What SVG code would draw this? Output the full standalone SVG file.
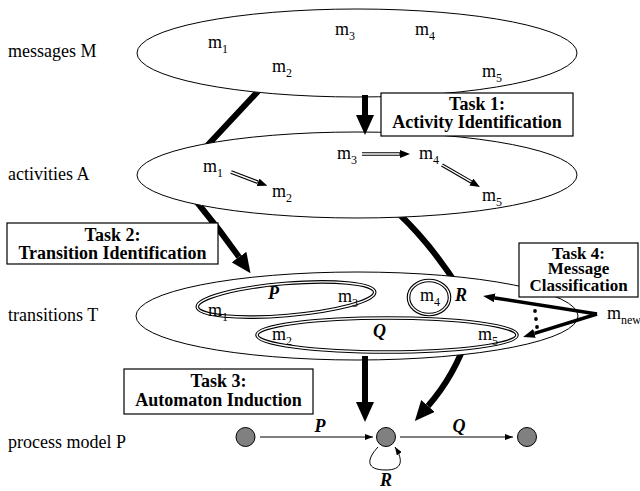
<svg xmlns="http://www.w3.org/2000/svg" width="640" height="491" viewBox="0 0 640 491">
<defs>
<style>
text{font-family:"Liberation Serif","Times New Roman",serif;font-size:18px;fill:#000}
.sub{font-size:12px}
.task{font-weight:bold;text-anchor:middle}
.t4{font-size:17px}
.bi{font-weight:bold;font-style:italic}
.set{fill:#fff;stroke:#000;stroke-width:1}
.dblo{fill:none;stroke:#000;stroke-width:3.6}
.dbli{fill:none;stroke:#fff;stroke-width:1.4}
.box{fill:#fff;stroke:#000;stroke-width:1.2}
.thick{fill:none;stroke:#000;stroke-width:6;stroke-linejoin:round}
.med{fill:none;stroke:#000;stroke-width:3.5}
.thin{fill:none;stroke:#000;stroke-width:1}
.state{fill:#808080;stroke:#000;stroke-width:1}
</style>
<marker id="bigHead" markerUnits="userSpaceOnUse" markerWidth="20" markerHeight="18" refX="0" refY="9" orient="auto"><path d="M0,0 L20,9 L0,18 Z" fill="#000"/></marker>
<marker id="midHead" markerUnits="userSpaceOnUse" markerWidth="12" markerHeight="9" refX="0" refY="4.5" orient="auto"><path d="M0,0 L12,4.5 L0,9 Z" fill="#000"/></marker>
<marker id="dblHead" markerUnits="userSpaceOnUse" markerWidth="10" markerHeight="8" refX="0" refY="4" orient="auto"><path d="M0,0 L10,4 L0,8 Z" fill="#000"/></marker>
<marker id="thinHead" markerUnits="userSpaceOnUse" markerWidth="8" markerHeight="6" refX="8" refY="3" orient="auto"><path d="M0,0 L8,3 L0,6 Z" fill="#000"/></marker>
<clipPath id="outside">
<path clip-rule="evenodd" d="M0,0 H640 V491 H0 Z M137,53 A220,44 0 1 0 577,53 A220,44 0 1 0 137,53 Z M137,175 A220,43 0 1 0 577,175 A220,43 0 1 0 137,175 Z M136,316 A221,44 0 1 0 578,316 A221,44 0 1 0 136,316 Z"/>
</clipPath>
</defs>
<rect width="640" height="491" fill="#fff"/>

<text x="8" y="57">messages M</text>
<text x="8" y="180">activities A</text>
<text x="8" y="321">transitions T</text>
<text x="8" y="448">process model P</text>

<g id="set-M">
<ellipse class="set" cx="357" cy="53" rx="220" ry="44"/>
<text x="208" y="48">m<tspan class="sub" dy="5">1</tspan></text>
<text x="272" y="72">m<tspan class="sub" dy="5">2</tspan></text>
<text x="335" y="35">m<tspan class="sub" dy="5">3</tspan></text>
<text x="415" y="35">m<tspan class="sub" dy="5">4</tspan></text>
<text x="482" y="77">m<tspan class="sub" dy="5">5</tspan></text>
</g>

<g id="set-A">
<ellipse class="set" cx="357" cy="175" rx="220" ry="43"/>
<text x="203" y="172">m<tspan class="sub" dy="5">1</tspan></text>
<text x="272" y="197">m<tspan class="sub" dy="5">2</tspan></text>
<text x="337" y="159">m<tspan class="sub" dy="5">3</tspan></text>
<text x="419" y="159">m<tspan class="sub" dy="5">4</tspan></text>
<text x="482" y="201">m<tspan class="sub" dy="5">5</tspan></text>
</g>

<g id="set-T">
<ellipse class="set" cx="357" cy="316" rx="221" ry="44"/>
</g>
<g id="trans-P">
<ellipse class="dblo" cx="286" cy="299.5" rx="89" ry="16" transform="rotate(-4.8 286 299.5)"/>
<ellipse class="dbli" cx="286" cy="299.5" rx="89" ry="16" transform="rotate(-4.8 286 299.5)"/>
<text x="208" y="316">m<tspan class="sub" dy="5">1</tspan></text>
<text class="bi" x="268" y="299">P</text>
<text x="338" y="302">m<tspan class="sub" dy="5">3</tspan></text>
</g>
<g id="trans-Q">
<ellipse class="dblo" cx="387" cy="335" rx="130" ry="17"/>
<ellipse class="dbli" cx="387" cy="335" rx="130" ry="17"/>
<text x="272" y="340">m<tspan class="sub" dy="5">2</tspan></text>
<text class="bi" x="373" y="337">Q</text>
<text x="478" y="340">m<tspan class="sub" dy="5">5</tspan></text>
</g>
<g id="trans-R">
<ellipse class="dblo" cx="429" cy="297.5" rx="20.5" ry="17"/>
<ellipse class="dbli" cx="429" cy="297.5" rx="20.5" ry="17"/>
<text x="420" y="301">m<tspan class="sub" dy="5">4</tspan></text>
<text class="bi" x="455" y="301">R</text>
</g>

<g id="connectors">
<path class="thick" clip-path="url(#outside)" marker-end="url(#bigHead)" d="M262,87 L205,148 C185,170 180,185 200,206 Q220,230 239,257"/>
<path class="thick" clip-path="url(#outside)" marker-end="url(#bigHead)" d="M398,213 Q432,245 460,290 L468,335 Q455,375 428,406"/>
<path class="thick" marker-end="url(#bigHead)" d="M365,95 V115"/>
<path class="thick" marker-end="url(#bigHead)" d="M365,356 V402"/>
<path class="dblo" marker-end="url(#dblHead)" d="M231,172 L258,182.3"/>
<path class="dbli" d="M231,172 L257.5,182.1"/>
<path class="dblo" marker-end="url(#dblHead)" d="M362,154 L400,154"/>
<path class="dbli" d="M362,154 L399.5,154"/>
<path class="dblo" marker-end="url(#dblHead)" d="M442,165 L471.3,182"/>
<path class="dbli" d="M442,165 L470.9,181.7"/>
<path class="med" marker-end="url(#midHead)" d="M597,314 L494.9,297.9"/>
<path class="med" marker-end="url(#midHead)" d="M597,314 L534.5,333.4"/>
<circle cx="535" cy="311" r="1.9"/>
<circle cx="536" cy="319" r="1.9"/>
<circle cx="537" cy="327" r="1.9"/>
<path class="thin" marker-end="url(#thinHead)" d="M260,437 H373"/>
<path class="thin" marker-end="url(#thinHead)" d="M400,437 H513"/>
<path class="thin" marker-end="url(#thinHead)" d="M378,447 C366,460 366,470 386,470 C402,470 404,461 395,447"/>
<text class="bi" x="320" y="432" text-anchor="middle">P</text>
<text class="bi" x="459" y="432" text-anchor="middle">Q</text>
<text class="bi" x="386" y="486" text-anchor="middle">R</text>
</g>

<g id="task1">
<rect class="box" x="381" y="93" width="192" height="43"/>
<text class="task" x="477" y="110">Task 1:</text>
<text class="task" x="477" y="128">Activity Identification</text>
</g>
<g id="task2">
<rect class="box" x="7" y="223" width="211" height="41"/>
<text class="task" x="112.5" y="241">Task 2:</text>
<text class="task" x="112.5" y="259">Transition Identification</text>
</g>
<g id="task3">
<rect class="box" x="124" y="369" width="189" height="45"/>
<text class="task" x="218.5" y="387">Task 3:</text>
<text class="task" x="218.5" y="406">Automaton Induction</text>
</g>
<g id="task4">
<rect class="box" x="519" y="243" width="119" height="54"/>
<text class="task t4" x="578.5" y="258.5">Task 4:</text>
<text class="task t4" x="578.5" y="274">Message</text>
<text class="task t4" x="578.5" y="290.5">Classification</text>
</g>

<g id="m-new">
<text x="607" y="319">m<tspan class="sub" dy="5">new</tspan></text>
</g>

<g id="state1"><circle class="state" cx="245.5" cy="437" r="9.5"/></g>
<g id="state2"><circle class="state" cx="386" cy="437" r="9.5"/></g>
<g id="state3"><circle class="state" cx="527" cy="437" r="9.5"/></g>
</svg>
